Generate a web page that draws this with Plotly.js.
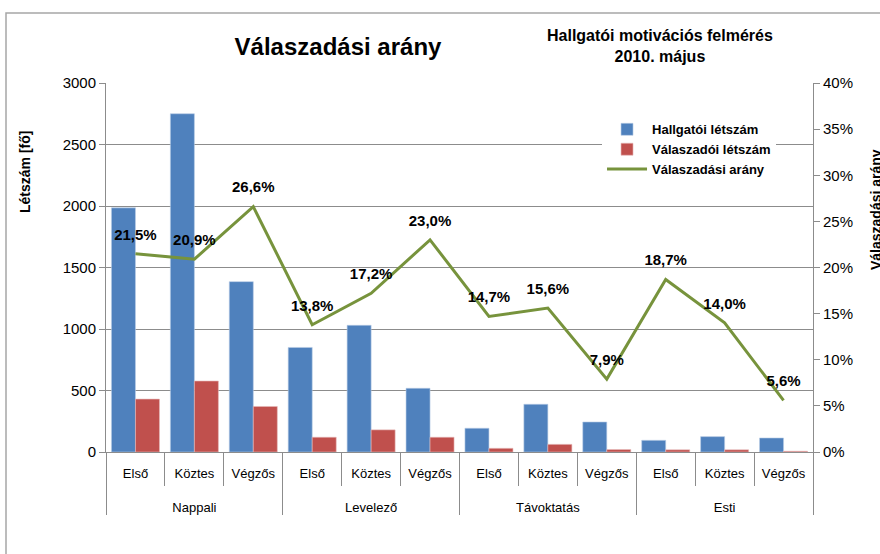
<!DOCTYPE html>
<html>
<head>
<meta charset="utf-8">
<script src="https://cdn.plot.ly/plotly-3.0.1.min.js"></script>
<style>
  html, body { margin: 0; padding: 0; background: #ffffff; }
  #chart { width: 880px; height: 554px; }
</style>
</head>
<body>
<div id="chart"></div>
<script>
// ---- Data ----
const groups = ['Nappali', 'Levelező', 'Távoktatás', 'Esti'];
const subcats = ['Első', 'Köztes', 'Végzős'];
const hallgatoiLetszam = [1985, 2750, 1385, 850, 1030, 518, 193, 388, 244, 95, 125, 114];
const valaszadoiLetszam = [430, 577, 370, 120, 180, 120, 30, 62, 20, 18, 18, 6];
const valaszadasiArany = [21.5, 20.9, 26.6, 13.8, 17.2, 23.0, 14.7, 15.6, 7.9, 18.7, 14.0, 5.6];
const seriesNames = ['Hallgatói létszám', 'Válaszadói létszám', 'Válaszadási arány'];

// build multicategory x from groups and subcats
const xGroup = [], xSub = [];
groups.forEach(g => subcats.forEach(s => { xGroup.push(g); xSub.push(s); }));
const xCat = [xGroup, xSub];
const nCat = xSub.length;

// sub-category labels get an empty spacer line so the group row sits lower
const subAlias = {};
subcats.forEach(s => { subAlias[s] = s + '<br><span style="font-size:37px">\u00A0</span>'; });

const FONT = 'Liberation Sans, Arial, sans-serif';
const GRID = '#8c8c8c';

const PLOT_TOP = 83, PLOT_BOTTOM = 452, PLOT_LEFT = 106, PLOT_RIGHT = 813;
const PH = PLOT_BOTTOM - PLOT_TOP, PW = PLOT_RIGHT - PLOT_LEFT;
const py = yPx => (PLOT_BOTTOM - yPx) / PH;
const px = xPx => (xPx - PLOT_LEFT) / PW;

const traces = [
  {
    type: 'bar', name: seriesNames[0], x: xCat, y: hallgatoiLetszam,
    marker: { color: '#4F81BD', line: { color: '#B9CDE5', width: 0.6 } },
    hoverinfo: 'skip'
  },
  {
    type: 'bar', name: seriesNames[1], x: xCat, y: valaszadoiLetszam,
    marker: { color: '#C0504D', line: { color: '#E6B9B8', width: 0.6 } },
    hoverinfo: 'skip'
  },
  {
    type: 'scatter', name: seriesNames[2], x: xCat, y: valaszadasiArany,
    yaxis: 'y2', mode: 'lines+markers+text',
    line: { color: '#77933C', width: 3 },
    marker: { size: 15, color: 'rgba(0,0,0,0)' },
    texttemplate: '%{y:.1f}%', textposition: 'top center',
    textfont: { family: FONT, size: 15, color: '#000000', weight: 'bold' },
    cliponaxis: false,
    hoverinfo: 'skip'
  }
];

const layout = {
  width: 880, height: 554,
  margin: { l: PLOT_LEFT, r: 880 - PLOT_RIGHT, t: PLOT_TOP, b: 554 - PLOT_BOTTOM },
  paper_bgcolor: '#ffffff', plot_bgcolor: '#ffffff',
  separators: ', ',
  font: { family: FONT, size: 14, color: '#000000' },
  barmode: 'group', bargap: 0.185, bargroupgap: 0,
  title: {
    text: 'Válaszadási arány',
    x: 338 / 880, xanchor: 'center', xref: 'container',
    y: 1 - 47 / 554, yanchor: 'middle', yref: 'container',
    font: { family: FONT, size: 24, weight: 'bold', color: '#000000' }
  },
  xaxis: {
    type: 'multicategory',
    range: [-0.5, nCat - 0.5], autorange: false,
    showline: true, linecolor: GRID, linewidth: 1,
    ticks: 'outside', tickson: 'boundaries', ticklen: 33, tickcolor: GRID, tickwidth: 1,
    ticklabelstandoff: 9,
    labelalias: subAlias,
    showdividers: true, dividercolor: GRID, dividerwidth: 1,
    tickfont: { family: FONT, size: 13, color: '#000000' },
    showgrid: false, zeroline: false
  },
  yaxis: {
    range: [0, 3000], dtick: 500, tick0: 0,
    showgrid: true, gridcolor: GRID, gridwidth: 1,
    showline: true, linecolor: GRID, linewidth: 1,
    ticks: 'outside', ticklen: 6, tickcolor: GRID,
    zeroline: false,
    tickfont: { family: FONT, size: 15, color: '#000000' }
  },
  yaxis2: {
    overlaying: 'y', side: 'right',
    range: [0, 40], dtick: 5, tick0: 0, ticksuffix: '%',
    showgrid: false, zeroline: false,
    showline: true, linecolor: GRID, linewidth: 1,
    ticks: 'outside', ticklen: 6, tickcolor: GRID,
    tickfont: { family: FONT, size: 15, color: '#000000' }
  },
  legend: {
    x: 0.7016, xanchor: 'left', y: 0.915, yanchor: 'top',
    bgcolor: '#ffffff', borderwidth: 0,
    itemwidth: 40, tracegroupgap: 0,
    font: { family: FONT, size: 13, weight: 'bold', color: '#000000' }
  },
  annotations: [
    {
      text: 'Hallgatói motivációs felmérés<br>2010. május',
      xref: 'paper', yref: 'paper', x: px(660), y: py(46),
      xanchor: 'center', yanchor: 'middle', showarrow: false,
      font: { family: FONT, size: 16, weight: 'bold', color: '#000000' }
    },
    {
      text: 'Létszám [fő]', textangle: -90,
      xref: 'paper', yref: 'paper', x: px(25), y: py(172),
      xanchor: 'center', yanchor: 'middle', showarrow: false,
      font: { family: FONT, size: 14, weight: 'bold', color: '#000000' }
    },
    {
      text: 'Válaszadási arány', textangle: -90,
      xref: 'paper', yref: 'paper', x: px(876), y: py(210),
      xanchor: 'center', yanchor: 'middle', showarrow: false,
      font: { family: FONT, size: 14, weight: 'bold', color: '#000000' }
    }
  ],
  shapes: [
    {
      type: 'rect', xref: 'paper', yref: 'paper', layer: 'below',
      x0: px(6), x1: 1.3, y0: -0.5, y1: py(13),
      line: { color: '#a6a6a6', width: 1.5 }, fillcolor: 'rgba(0,0,0,0)'
    }
  ],
  showlegend: true
};

Plotly.newPlot('chart', traces, layout, { staticPlot: true, displayModeBar: false });
</script>
</body>
</html>
